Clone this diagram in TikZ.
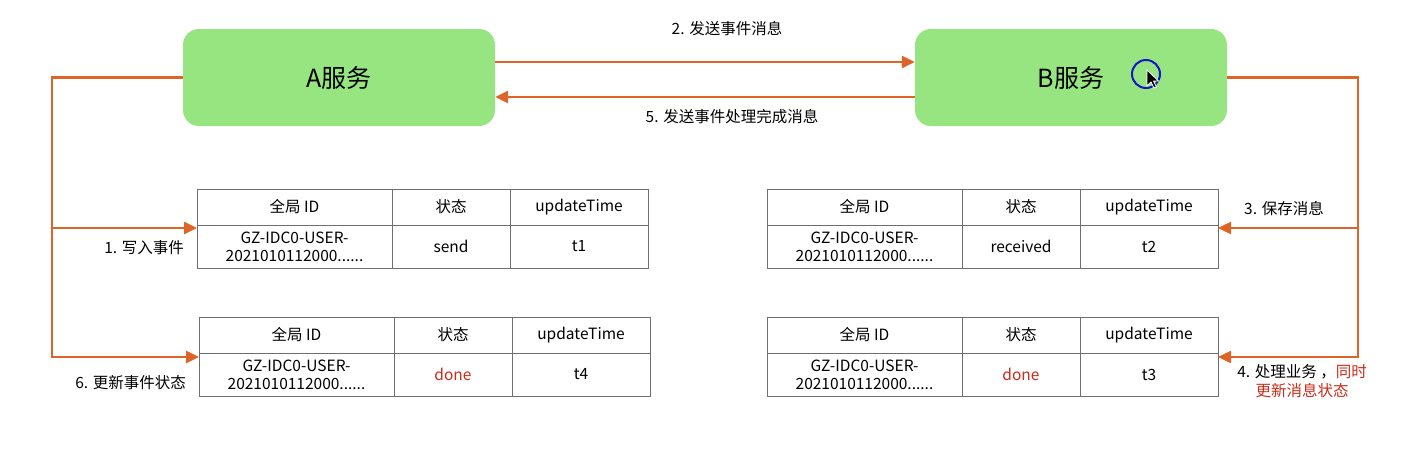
\documentclass[tikz,border=0pt]{standalone}
\usepackage{fontspec}
\setmainfont{Noto Sans CJK SC}
\usetikzlibrary{arrows.meta,calc}
\definecolor{boxgreen}{RGB}{151,229,128}
\definecolor{lineor}{RGB}{222,100,40}
\definecolor{donered}{RGB}{200,45,25}
\definecolor{gridgray}{RGB}{110,110,110}
\definecolor{curblue}{RGB}{20,20,200}
\newcommand\evtable[6]{%
  \node[cell, minimum width=195pt, minimum height=36pt] (#1h1) at (#2,#3) {全局 ID};
  \node[cell, minimum width=118pt, minimum height=36pt] (#1h2) at (#1h1.north east) {状态};
  \node[cell, minimum width=138pt, minimum height=36pt] (#1h3) at (#1h2.north east) {updateTime};
  \node[cell, minimum width=195pt, minimum height=43pt] (#1b1) at (#1h1.south west) {GZ-IDC0-USER-\\2021010112000......};
  \node[cell, minimum width=118pt, minimum height=43pt, text=#6] (#1b2) at (#1h2.south west) {#4};
  \node[cell, minimum width=138pt, minimum height=43pt] (#1b3) at (#1h3.south west) {#5};
}
\begin{document}
\begin{tikzpicture}[x=1pt,y=-1pt,
  svc/.style={fill=boxgreen, rounded corners=16pt, minimum width=312pt, minimum height=97pt,
    font=\fontsize{25}{29}\selectfont, inner sep=0},
  cell/.style={draw=gridgray, line width=1pt, inner sep=0, outer sep=0, anchor=north west,
    align=center, font=\fontsize{15.5}{18}\selectfont},
  conn/.style={draw=lineor, line width=2.5pt},
  arr/.style={conn, -{Triangle[length=13pt,width=12pt]}},
  lbl/.style={font=\fontsize{15.5}{19}\selectfont, inner sep=0, align=center}]
\useasboundingbox[fill=white] (0,0) rectangle (1408,455);
\node[svc] (A) at (339,77.5) {A服务};
\node[svc] (B) at (1071,77.5) {B服务};
\draw[arr] ([yshift=15.5pt]A.east) -- ([yshift=15.5pt]B.west);
\draw[arr] ([yshift=-19.5pt]B.west) -- ([yshift=-19.5pt]A.east);
\node[lbl] (l2) at (727,29) {2. 发送事件消息};
\node[lbl] (l5) at (732,117) {5. 发送事件处理完成消息};
\evtable{ta}{197}{189}{send}{t1}{black}
\evtable{tb}{199}{317}{done}{t4}{donered}
\evtable{tc}{767}{189}{received}{t2}{black}
\evtable{td}{767}{317}{done}{t3}{donered}
\coordinate (L1) at (52,228);
\coordinate (L2) at (52,357);
\coordinate (R1) at (1358,228);
\coordinate (R2) at (1358,357);
\draw[arr] (A.west) -| (L2) -- (L2 -| tbb1.west);
\draw[arr] (L1) -- (L1 -| tab1.west);
\draw[arr] (B.east) -| (R2) -- (R2 -| tdb3.east);
\draw[arr] (R1) -- (R1 -| tcb3.east);
\node[lbl, anchor=east] (l1) at (184,248) {1. 写入事件};
\node[lbl, anchor=east] (l6) at (186,383) {6. 更新事件状态};
\node[lbl] (l3) at (1284,209) {3. 保存消息};
\node[lbl] (l4) at (1302,381) {4. 处理业务 ，\textcolor{donered}{同时}\\\textcolor{donered}{更新消息状态}};
\draw[curblue, line width=2pt] (1146,74) circle (14pt);
\filldraw[fill=black, draw=white, line width=0.8pt] (1147,70) -- ++(0,16) -- ++(4,-4) -- ++(3,6) -- ++(2.5,-1) -- ++(-3,-6) -- ++(5,0) -- cycle;
\end{tikzpicture}
\end{document}
